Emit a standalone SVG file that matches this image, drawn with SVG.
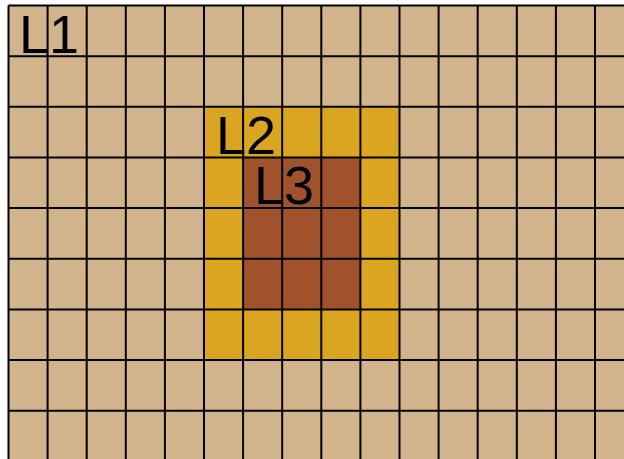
<svg xmlns="http://www.w3.org/2000/svg" width="624" height="459" viewBox="0 0 624 459">
<style>
.lbl{font-family:"Liberation Sans",Arial,sans-serif;font-size:54px;fill:#000}
.grid line{stroke:#000;stroke-width:2}
</style>
<rect width="624" height="459" fill="#fff"/>
<g id="L1">
<rect x="8.5" y="5.5" width="616" height="454" fill="#D2B48C"/>
</g>
<g id="L2">
<rect x="204" y="106.8" width="195.5" height="253.2" fill="#DAA520"/>
</g>
<g id="L3">
<rect x="243.1" y="157.4" width="117.3" height="152" fill="#A0522D"/>
</g>
<g class="grid" id="grid">
<line x1="8.5" y1="5.5" x2="8.5" y2="459"/>
<line x1="47.6" y1="5.5" x2="47.6" y2="459"/>
<line x1="86.7" y1="5.5" x2="86.7" y2="459"/>
<line x1="125.8" y1="5.5" x2="125.8" y2="459"/>
<line x1="164.9" y1="5.5" x2="164.9" y2="459"/>
<line x1="204" y1="5.5" x2="204" y2="459"/>
<line x1="243.1" y1="5.5" x2="243.1" y2="459"/>
<line x1="282.2" y1="5.5" x2="282.2" y2="459"/>
<line x1="321.3" y1="5.5" x2="321.3" y2="459"/>
<line x1="360.4" y1="5.5" x2="360.4" y2="459"/>
<line x1="399.5" y1="5.5" x2="399.5" y2="459"/>
<line x1="438.6" y1="5.5" x2="438.6" y2="459"/>
<line x1="477.7" y1="5.5" x2="477.7" y2="459"/>
<line x1="516.8" y1="5.5" x2="516.8" y2="459"/>
<line x1="555.9" y1="5.5" x2="555.9" y2="459"/>
<line x1="595" y1="5.5" x2="595" y2="459"/>
<line x1="8.5" y1="5.5" x2="624" y2="5.5"/>
<line x1="8.5" y1="56.2" x2="624" y2="56.2"/>
<line x1="8.5" y1="106.8" x2="624" y2="106.8"/>
<line x1="8.5" y1="157.4" x2="624" y2="157.4"/>
<line x1="8.5" y1="208.1" x2="624" y2="208.1"/>
<line x1="8.5" y1="258.8" x2="624" y2="258.8"/>
<line x1="8.5" y1="309.4" x2="624" y2="309.4"/>
<line x1="8.5" y1="360" x2="624" y2="360"/>
<line x1="8.5" y1="410.7" x2="624" y2="410.7"/>
</g>
<text class="lbl" x="19" y="53">L1</text>
<text class="lbl" x="216" y="154">L2</text>
<text class="lbl" x="254" y="204">L3</text>
</svg>
